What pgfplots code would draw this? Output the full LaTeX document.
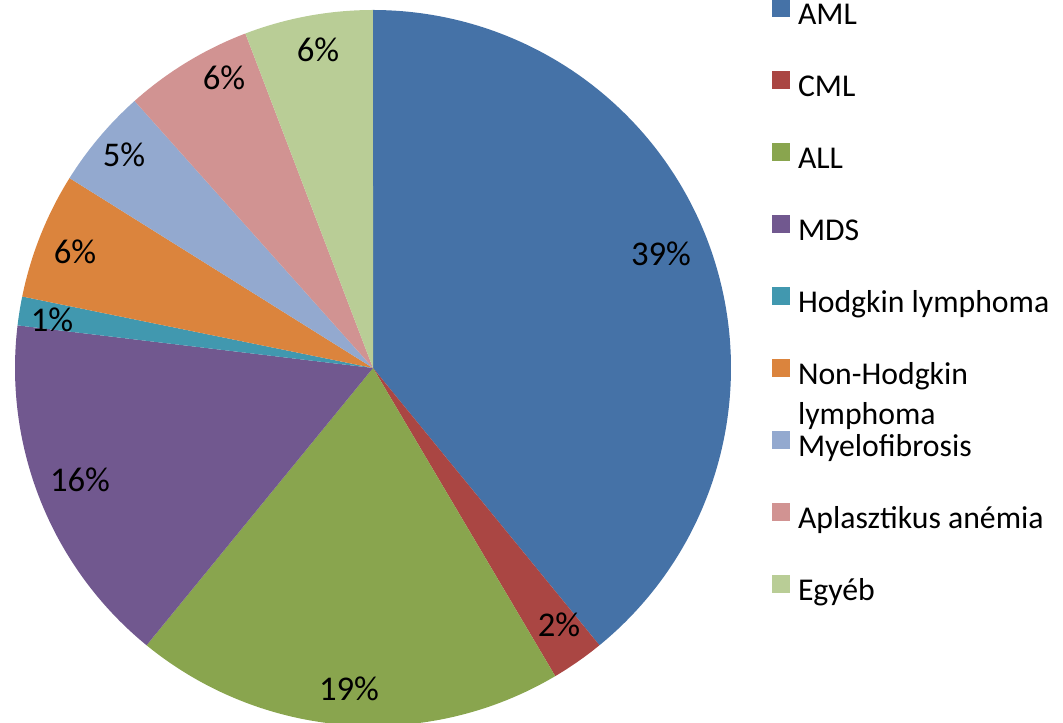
\documentclass[border=0pt]{standalone}
\usepackage{pgfplots}
\pgfplotsset{compat=1.18}
\usepackage{fontspec}
\setmainfont{Carlito}
\definecolor{cAML}{HTML}{4572A7}
\definecolor{cCML}{HTML}{AA4643}
\definecolor{cALL}{HTML}{89A54E}
\definecolor{cMDS}{HTML}{71588F}
\definecolor{cHL}{HTML}{4198AF}
\definecolor{cNHL}{HTML}{DB843D}
\definecolor{cMF}{HTML}{93A9CF}
\definecolor{cAA}{HTML}{D19392}
\definecolor{cEG}{HTML}{B9CD96}
% pie geometry in pixel units: centre (373,-368), radius 358
% slices given as cumulative percentages (start, end)
\newcommand{\slice}[3]{%
  \addplot[fill=#3, draw=none, domain=#1*3.6:#2*3.6, samples=150, variable=\t]
    ({373+358*sin(\t)},{-368+358*cos(\t)}) -- (373,-368) -- cycle;}
\begin{document}
\begin{tikzpicture}
\useasboundingbox (0,0) rectangle (797.25pt,542.25pt);
\begin{axis}[
  at={(0,0)}, anchor=south west,
  width=797.25pt, height=542.25pt, scale only axis,
  xmin=0, xmax=1063, ymin=-723, ymax=0,
  hide axis, clip=true,
  legend image code/.code={\fill[#1] (0pt,0pt) rectangle (13.5pt,13.5pt);},
  legend cell align=left,
  legend style={at={(axis cs:772,0.5)}, anchor=north west, draw=none, fill=none,
    inner sep=0pt, outer sep=0pt, row sep=30pt, column sep=6pt,
    font=\fontsize{23.8}{30}\selectfont,
    nodes={inner sep=0pt, outer sep=0pt, text height=16pt, text depth=5pt}},
]
% values (%): AML 39.1, CML 2.4, ALL 19.4, MDS 16.0, HL 1.3, NHL 5.7, MF 4.5, AA 5.8, Egyeb 5.8
\slice{0}{39.1}{cAML}   \addlegendentry{AML}
\slice{39.1}{41.5}{cCML} \addlegendentry{CML}
\slice{41.5}{60.9}{cALL} \addlegendentry{ALL}
\slice{60.9}{76.9}{cMDS} \addlegendentry{MDS}
\slice{76.9}{78.2}{cHL}  \addlegendentry{Hodgkin lymphoma}
\slice{78.2}{83.9}{cNHL} \addlegendentry{\smash{\begin{tabular}[t]{@{}l@{}}Non-Hodgkin\\lymphoma\end{tabular}}}
\slice{83.9}{88.4}{cMF}  \addlegendentry{Myelofibrosis}
\slice{88.4}{94.2}{cAA}  \addlegendentry{Aplasztikus anémia}
\slice{94.2}{100}{cEG}   \addlegendentry{Egyéb}
\begin{scope}[every node/.style={font=\fontsize{26}{30}\selectfont, anchor=base, inner sep=0pt}]
\node at (axis cs:661,-266) {39\%};
\node at (axis cs:559,-637) {2\%};
\node at (axis cs:349,-701) {19\%};
\node at (axis cs:80,-492) {16\%};
\node at (axis cs:52,-332) {1\%};
\node at (axis cs:75,-264) {6\%};
\node at (axis cs:124,-167) {5\%};
\node at (axis cs:224,-90) {6\%};
\node at (axis cs:318,-62) {6\%};
\end{scope}
\end{axis}
\end{tikzpicture}
\end{document}
